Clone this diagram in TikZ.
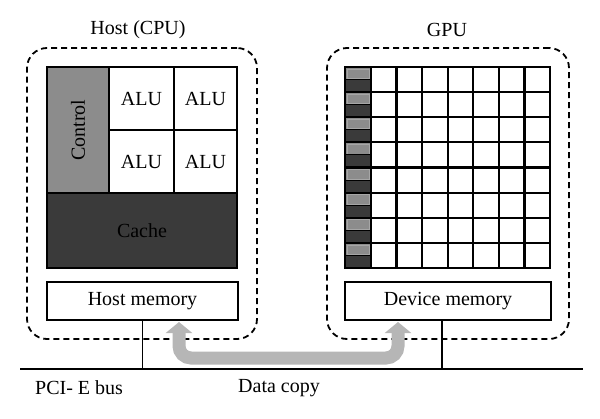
\documentclass[tikz,border=0pt]{standalone}
\usepackage{fontspec}
\setmainfont{Liberation Serif}
\usetikzlibrary{arrows.meta}
\definecolor{ctrlgray}{RGB}{140,140,140}
\definecolor{cachegray}{RGB}{58,58,58}
\definecolor{arrowgray}{RGB}{182,182,182}
\begin{document}
\begin{tikzpicture}[x=1pt,y=-1pt,
  every node/.style={font=\fontsize{20}{22}\selectfont},
  blk/.style={draw=black, line width=2.2pt, inner sep=0pt, outer sep=0pt, anchor=center},
  dashbox/.style={draw=black, line width=1.8pt, dash pattern=on 6pt off 4pt, rounded corners=20pt, inner sep=0pt, outer sep=0pt, anchor=north west},
  title/.style={inner sep=0pt, anchor=center},
  gline/.style={line width=2.2pt},
  busline/.style={line width=1.5pt},
  copyarrow/.style={draw=arrowgray, line width=13pt, rounded corners=12pt,
    {Triangle[width=26pt,length=11pt]}-{Triangle[width=26pt,length=11pt]}}
]
\useasboundingbox (0,0) rectangle (600,418);

% dashed enclosures
\node[dashbox, minimum width=230pt, minimum height=291pt] (hostbox) at (27,48) {};
\node[dashbox, minimum width=242pt, minimum height=291pt] (gpubox) at (327,48) {};

% titles
\node[title] (hosttitle) at (138,30) {Host (CPU)};
\node[title] (gputitle) at (447,30) {GPU};

% CPU
\node[blk, fill=ctrlgray, rotate=90, minimum width=126pt, minimum height=62pt] (control) at (78,130) {Control};
\node[blk, fill=white, minimum width=65pt, minimum height=63pt] (alu1) at (141.5,98.5) {ALU};
\node[blk, fill=white, minimum width=63pt, minimum height=63pt] (alu2) at (205.5,98.5) {ALU};
\node[blk, fill=white, minimum width=65pt, minimum height=63pt] (alu3) at (141.5,161.5) {ALU};
\node[blk, fill=white, minimum width=63pt, minimum height=63pt] (alu4) at (205.5,161.5) {ALU};
\node[blk, fill=cachegray, minimum width=190pt, minimum height=75pt] (cache) at (142,230.5) {Cache};

% GPU grid
\foreach \r in {0,...,7} {
  \fill[ctrlgray] (345,{67+\r*25.125}) rectangle (371,{67+\r*25.125+12.5});
  \fill[cachegray] (345,{67+\r*25.125+12.5}) rectangle (371,{67+(\r+1)*25.125});
  \draw[line width=0.6pt, draw=gray!70] (347,{69+\r*25.125}) rectangle (369,{67+\r*25.125+11.5});
  \draw[line width=0.9pt] (345,{67+\r*25.125+12.5}) -- (371,{67+\r*25.125+12.5});
}
\foreach \k in {0,...,6} {
  \draw[gline] ({371+\k*25.57},67) -- ({371+\k*25.57},268);
}
\foreach \r in {1,...,7} {
  \draw[gline] (345,{67+\r*25.125}) -- (550,{67+\r*25.125});
}
\draw[gline] (345,67) rectangle (550,268);

% memories
\node[blk, fill=white, minimum width=191pt, minimum height=38pt] (hostmem) at (142.5,301) {Host memory};
\node[blk, fill=white, minimum width=206pt, minimum height=38pt] (devmem) at (448,301) {Device memory};

% bus
\coordinate (busL) at (20,369);
\coordinate (busR) at (583,369);
\draw[busline] (busL) -- (busR);
\draw[busline] (hostmem.south) -- (hostmem.south |- busL);
\coordinate (devtap) at (442,320);
\draw[busline] (devtap) -- (devtap |- busL);

% data copy arrow
\coordinate (cpL) at (179,322);
\coordinate (cpR) at (398,322);
\draw[copyarrow] (cpL) -- (179,358) -- (398,358) -- (cpR);

% labels
\node[title, anchor=west] (pcie) at (35,388) {PCI- E bus};
\node[title] (datacopy) at (279,388) {Data copy};
\end{tikzpicture}
\end{document}
